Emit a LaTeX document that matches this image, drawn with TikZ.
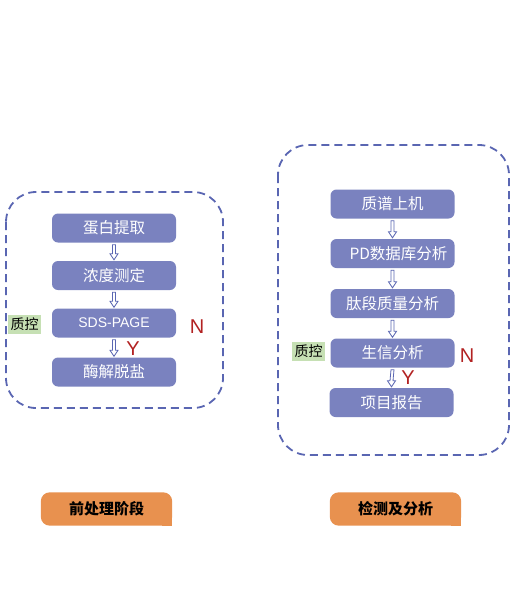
\documentclass[tikz,border=0pt]{standalone}
\usepackage{fontspec}
\setmainfont{Liberation Sans}
\newfontfamily\cjk{Noto Sans CJK SC}
\usetikzlibrary{calc}
\definecolor{boxblue}{HTML}{7A82BF}
\definecolor{dashblue}{HTML}{5A66B2}
\definecolor{qcgreen}{HTML}{C6E0B4}
\definecolor{stageorange}{HTML}{E8914F}
\definecolor{ynred}{HTML}{B22222}
\tikzset{
  stepbox/.style={fill=boxblue, rounded corners=6pt, minimum width=124pt, minimum height=29pt, inner sep=0pt, text=white, font=\cjk\fontsize{15.5}{15.5}\selectfont},
  dashframe/.style={draw=dashblue, line width=1.8pt, dash pattern=on 8pt off 5pt, rounded corners=30pt},
  qclabel/.style={fill=qcgreen, inner sep=0pt, minimum width=33pt, minimum height=19pt, font=\cjk\fontsize{14}{14}\selectfont},
  ynlabel/.style={text=ynred, inner sep=0pt, font=\fontsize{20}{20}\selectfont},
  stagebox/.style={inner sep=0pt, minimum width=131pt, minimum height=33pt, font=\cjk\bfseries\fontsize{15}{15}\selectfont},
  arrowline/.style={draw=dashblue, line width=0.8pt, fill=white, line join=miter},
}
\newcommand\hollowarrow[2]{%
  \path (#1.south) coordinate (hs) (#2.north) coordinate (he);
  \draw[arrowline] ($(hs)+(-1.5,2)$) -- ($(he)+(-1.5,-7)$) -- ($(he)+(-4,-7)$) -- ($(he)+(0,-1)$) -- ($(he)+(4,-7)$) -- ($(he)+(1.5,-7)$) -- ($(hs)+(1.5,2)$) -- cycle;}
\begin{document}
\begin{tikzpicture}[x=1pt,y=-1pt]
\useasboundingbox (0,0) rectangle (526,600);
% frames
\draw[dashframe] (6,192) rectangle (223,408);
\draw[dashframe] (278,145) rectangle (509,455);
% left column
\node[stepbox] (a1) at (114,228) {蛋白提取};
\node[stepbox] (a2) at (114,275.5) {浓度测定};
\node[stepbox, font=\fontsize{14}{14}\selectfont] (a3) at (114,323) {SDS-PAGE};
\node[stepbox] (a4) at (114,372) {酶解脱盐};
\hollowarrow{a1}{a2}
\hollowarrow{a2}{a3}
\hollowarrow{a3}{a4}
\node[qclabel] (q1) at (24.5,324.5) {质控};
\node[ynlabel] (n1) at (197,326.5) {N};
\node[ynlabel] (y1) at (133,349) {Y};
% right column
\node[stepbox] (b1) at (392.5,204) {质谱上机};
\node[stepbox] (b2) at (392.5,253.5) {\hspace*{12pt}PD数据库分析};
\node[stepbox] (b3) at (392.5,303.5) {肽段质量分析};
\node[stepbox] (b4) at (392.5,353) {生信分析};
\node[stepbox] (b5) at (391.5,402.5) {项目报告};
\hollowarrow{b1}{b2}
\hollowarrow{b2}{b3}
\hollowarrow{b3}{b4}
\hollowarrow{b4}{b5}
\node[qclabel] (q2) at (308.5,351) {质控};
\node[ynlabel] (n2) at (467,356) {N};
\node[ynlabel] (y2) at (408,378) {Y};
% stage labels
\node[stagebox] (s1) at (106.5,509) {};
\fill[stageorange, rounded corners=9pt] (s1.south west) rectangle (s1.north east);
\fill[stageorange] ($(s1.south east)+(-10,-10)$) rectangle (s1.south east);
\node[stagebox] at (s1) {前处理阶段};
\node[stagebox] (s2) at (395.5,509) {};
\fill[stageorange, rounded corners=9pt] (s2.south west) rectangle (s2.north east);
\fill[stageorange] ($(s2.south east)+(-10,-10)$) rectangle (s2.south east);
\node[stagebox] at (s2) {检测及分析};
\end{tikzpicture}
\end{document}
